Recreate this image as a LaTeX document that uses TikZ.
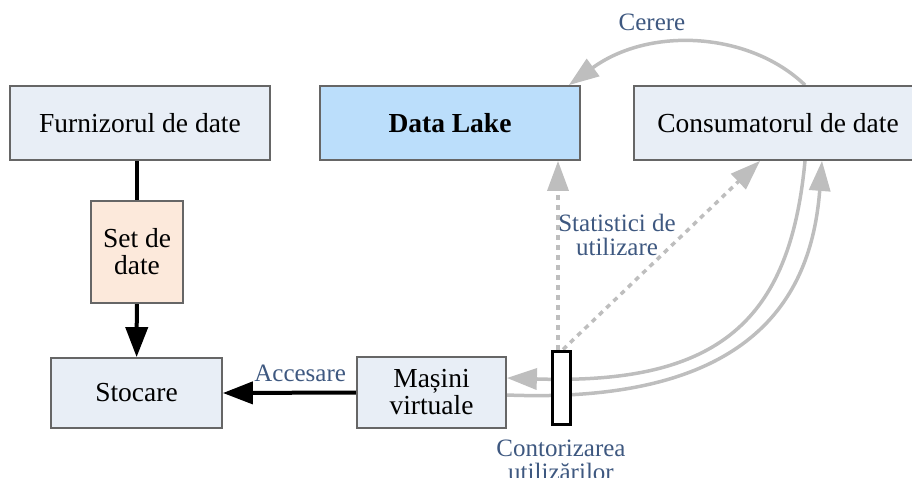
\documentclass[tikz,border=0pt]{standalone}
\usepackage{fontspec}
\IfFontExistsTF{LiberationSerif-Regular.ttf}{%
  \setmainfont{LiberationSerif}[Extension=.ttf, UprightFont=*-Regular,
    BoldFont=*-Bold, ItalicFont=*-Italic, BoldItalicFont=*-BoldItalic]}{%
  \setmainfont{Liberation Serif}}
\usetikzlibrary{arrows.meta,backgrounds}

\definecolor{boxfill}{RGB}{232,238,246}
\definecolor{lakefill}{RGB}{187,222,251}
\definecolor{setfill}{RGB}{252,233,219}
\definecolor{boxline}{RGB}{102,102,102}
\definecolor{edgegray}{RGB}{190,190,190}
\definecolor{labelblue}{RGB}{62,88,128}

\tikzset{
  box/.style={draw=boxline, line width=1.8pt, fill=boxfill, inner sep=0pt,
    align=center, font=\rmfamily\fontsize{27.5}{27}\selectfont},
  blk/.style={line width=4pt, black},
  blkarrow/.style={blk, -{Triangle[length=30pt,width=22pt]}},
  gry/.style={line width=3.5pt, edgegray, -{Triangle[length=30pt,width=21pt]}},
  gryd/.style={gry, dash pattern=on 5pt off 5pt},
  lbl/.style={text=labelblue, align=center, inner sep=0pt,
    font=\rmfamily\fontsize{25}{24}\selectfont},
}

\begin{document}
\begin{tikzpicture}[x=1pt, y=-1pt]
  \useasboundingbox (0,0) rectangle (912,477);

  % boxes
  \node[box, minimum width=260pt, minimum height=74pt] (furn) at (140,123) {Furnizorul de date};
  \node[box, fill=lakefill, minimum width=260pt, minimum height=74pt] (lake) at (450,123) {\textbf{Data Lake}};
  \node[box, minimum width=288pt, minimum height=74pt] (cons) at (778,123) {Consumatorul de date};
  \node[box, fill=setfill, minimum width=92pt, minimum height=102pt] (set) at (137,252) {Set de\\date};
  \node[box, minimum width=171pt, minimum height=70pt] (stoc) at (136.5,393) {Stocare};
  \node[box, minimum width=149pt, minimum height=71pt] (vm) at (431.5,392.5) {Mașini\\virtuale};
  \node[draw=black, fill=white, line width=3pt, minimum width=18pt, minimum height=73pt,
    inner sep=0pt] (bar) at (561,387.5) {};

  % labels
  \node[lbl] (lcerere) at (652,22) {Cerere};
  \node[lbl] (lstat) at (617,235) {Statistici de\\utilizare};
  \node[lbl] (lcont) at (561,460) {Contorizarea\\utilizărilor};

  \begin{scope}[on background layer]
    % data flow from the provider to storage
    \draw[blk] (set.north |- furn.south) -- (set.north);
    \draw[blkarrow] (set) -- (stoc);
    \draw[blkarrow] (vm.west) -- (stoc.east)
      node[lbl, pos=0.42, above=9pt] (lacc) {Accesare};

    % request from the consumer to the lake
    \draw[gry] ([xshift=27pt]cons.north) .. controls (750,32) and (650,26) .. ([xshift=-12pt]lake.north east);

    % usage statistics from the meter
    \draw[gryd] ([xshift=-3pt]bar.north) -- ([xshift=-3pt]bar.north |- lake.south);
    \draw[gryd] ([xshift=2pt]bar.north) -- ([xshift=-18pt]cons.south);

    % consumer <-> virtual machines, passing through the meter
    \draw[gry] ([xshift=27pt]cons.south) .. controls (790,320) and (720,385) .. ([yshift=14.5pt]vm.east);
    \draw[gry] ([yshift=-2.5pt]vm.east) .. controls (760,405) and (812,290) .. ([xshift=44pt]cons.south);
  \end{scope}
\end{tikzpicture}
\end{document}
